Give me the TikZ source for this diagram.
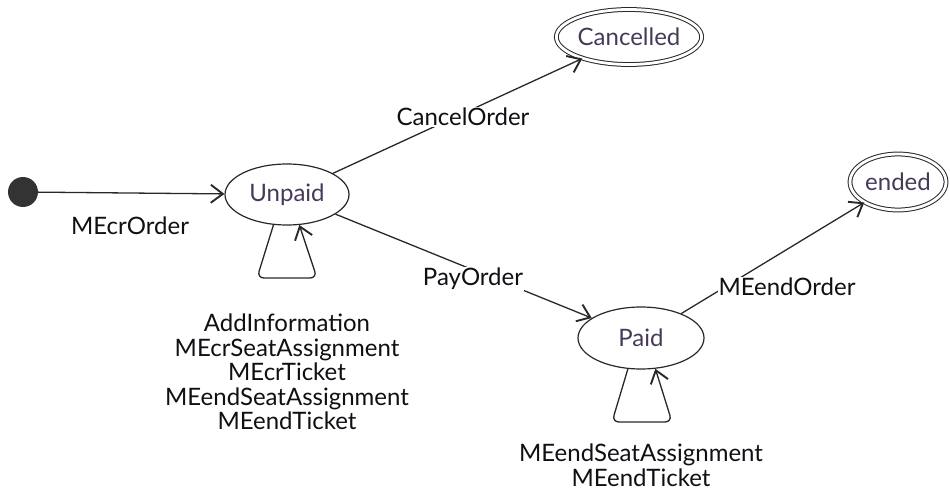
\documentclass[tikz,border=0pt]{standalone}
\usepackage{fontspec}
\setmainfont{Lato}
\usetikzlibrary{shapes.geometric,arrows.meta}
\definecolor{ln}{RGB}{40,40,40}
\definecolor{st}{RGB}{70,58,88}
\definecolor{tx}{RGB}{15,15,20}
\tikzset{
  state/.style={ellipse,draw=ln,line width=1.2pt,inner sep=0pt,text=st,font=\fontsize{24}{24.5}\selectfont},
  final/.style={state,double=white,double distance=2.8pt,line width=1pt},
  edge/.style={draw=ln,line width=1.3pt,-{Straight Barb[length=12pt,width=18pt,line width=1.9pt]}},
  lbl/.style={text=tx,font=\fontsize{24}{24.5}\selectfont,inner sep=1pt,align=center},
  lblw/.style={lbl,fill=white},
}
\begin{document}
\begin{tikzpicture}[x=1pt,y=-1pt]
\useasboundingbox (0,0) rectangle (950,492);
\node[circle,fill={rgb,255:red,51;green,51;blue,51},minimum size=30pt,inner sep=0pt] (init) at (23,192) {};
\node[state,minimum width=124pt,minimum height=61pt] (u) at (287,194.5) {Unpaid};
\node[final,minimum width=127pt,minimum height=55pt] (c) at (629,37) {Cancelled};
\node[state,minimum width=126pt,minimum height=62pt] (p) at (641,338) {Paid};
\node[final,minimum width=96pt,minimum height=56pt] (e) at (898,182) {ended};

\draw[edge] (init) -- (u);
\draw[edge] (u) -- (c);
\draw[edge] (u) -- (p);
\draw[edge] (p) -- (e);
\draw[edge,rounded corners=7pt] (u.-114) -- (257,278) -- (317,278) -- (u.-68);
\draw[edge,rounded corners=7pt] (p.-113) -- (612,422) -- (672,422) -- (p.-65);

\node[lbl] (l1) at (130,226) {MEcrOrder};
\node[lblw] (l2) at (463,117) {CancelOrder};
\node[lblw] (l3) at (473,279) {PayOrder};
\node[lblw] (l4) at (787,287) {MEendOrder};
\node[lbl] (l5) at (287,372) {AddInformation\\MEcrSeatAssignment\\MEcrTicket\\MEendSeatAssignment\\MEendTicket};
\node[lbl] (l6) at (641,465.5) {MEendSeatAssignment\\MEendTicket};
\end{tikzpicture}
\end{document}
